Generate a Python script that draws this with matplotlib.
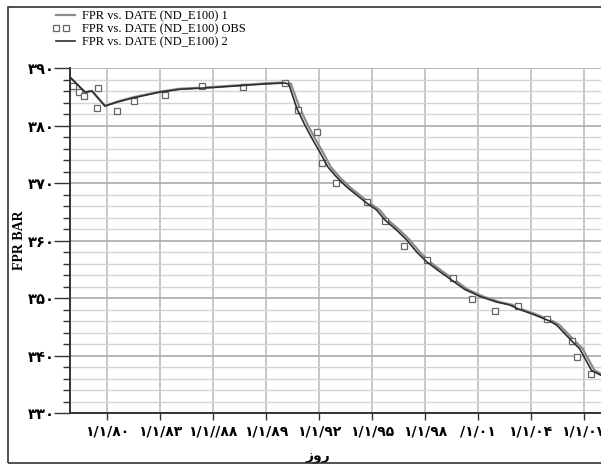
import matplotlib
matplotlib.use('Agg')
import matplotlib.pyplot as plt
from matplotlib.patches import Rectangle
from matplotlib.ticker import MultipleLocator
from matplotlib.legend_handler import HandlerLine2D

# x is measured in tick steps (0 = first date label)
x_tick_labels = ['۱/۱/۸۰', '۱/۱/۸۳', '۱/۱//۸۸', '۱/۱/۸۹', '۱/۱/۹۲',
                 '۱/۱/۹۵', '۱/۱/۹۸', '/۱/۰۱', '۱/۱/۰۴', '۱/۱/۰۷']
y_ticks = [330, 340, 350, 360, 370, 380, 390]
y_tick_labels = ['۳۳۰', '۳۴۰', '۳۵۰', '۳۶۰', '۳۷۰', '۳۸۰', '۳۹۰']

# FPR vs. DATE (ND_E100) 2  (dark line)
t2 = [-0.698, -0.415, -0.283, -0.038, 0.208, 0.491, 1.0, 1.377, 2.0, 2.943,
      3.358, 3.434, 3.585, 3.736, 3.887, 4.019, 4.17, 4.34, 4.528, 4.717,
      4.906, 5.094, 5.245, 5.472, 5.66, 5.849, 6.038, 6.283, 6.528, 6.755,
      7.038, 7.358, 7.604, 7.792, 8.038, 8.358, 8.491, 8.604, 8.792, 8.925,
      9.057, 9.151, 9.321, 9.491]
fpr2 = [388.4, 385.8, 386.0, 383.4, 384.1, 384.8, 385.8, 386.3, 386.6, 387.2,
        387.4, 387.2, 383.0, 380.1, 377.5, 375.4, 372.8, 371.0, 369.3, 367.9,
        366.5, 365.3, 363.6, 361.8, 360.1, 358.0, 356.3, 354.6, 353.0, 351.5,
        350.3, 349.3, 348.8, 348.0, 347.2, 346.0, 345.3, 344.2, 342.4, 341.2,
        339.0, 337.4, 336.6, 336.0]

# FPR vs. DATE (ND_E100) 1  (grey line)
t1 = [-0.698, -0.415, -0.283, -0.038, 0.208, 0.491, 1.0, 1.377, 2.0, 2.943,
      3.358, 3.472, 3.642, 3.792, 3.943, 4.075, 4.226, 4.396, 4.585, 4.774,
      4.962, 5.151, 5.302, 5.528, 5.717, 5.906, 6.094, 6.340, 6.585, 6.811,
      7.094, 7.415, 7.660, 7.849, 8.094, 8.415, 8.547, 8.660, 8.849, 8.981,
      9.113, 9.208, 9.377, 9.547]
fpr1 = [388.4, 385.8, 386.0, 383.4, 384.2, 384.9, 385.9, 386.4, 386.7, 387.3,
        387.5, 387.3, 383.0, 380.1, 377.5, 375.4, 372.8, 371.0, 369.3, 367.9,
        366.5, 365.3, 363.6, 361.8, 360.1, 358.0, 356.3, 354.6, 353.0, 351.5,
        350.3, 349.3, 348.8, 348.0, 347.2, 346.0, 345.3, 344.2, 342.4, 341.2,
        339.0, 337.4, 336.6, 336.0]

# FPR vs. DATE (ND_E100) OBS
t_obs = [-0.642, -0.528, -0.434, -0.189, -0.170, 0.189, 0.509, 1.094, 1.792,
         2.566, 3.358, 3.604, 3.962, 4.057, 4.321, 4.906, 5.245, 5.604, 6.038,
         6.528, 6.887, 7.321, 7.755, 8.302, 8.774, 8.868, 9.132]
fpr_obs = [386.9, 385.8, 385.1, 383.0, 386.5, 382.5, 384.3, 385.3, 386.9,
           386.7, 387.4, 382.7, 378.9, 373.5, 370.0, 366.7, 363.4, 359.0, 356.6,
           353.5, 349.8, 347.7, 348.6, 346.3, 342.5, 339.7, 336.8]


class ObsHandler(HandlerLine2D):
    # the two legend squares sit on the left part of the handle
    def get_xdata(self, legend, xdescent, ydescent, width, height, fontsize):
        xs = [-xdescent + 0.17 * width, -xdescent + 0.52 * width]
        return xs, xs


fig = plt.figure(figsize=(6.01, 4.66), dpi=100)
fig.patches.append(Rectangle((8 / 601, 3 / 466), 1.0, 456 / 466, transform=fig.transFigure,
                             fill=False, edgecolor='#333333', linewidth=1.2, clip_on=False))

ax = fig.add_axes([70 / 601, 53 / 466, 540 / 601, 345 / 466])
ax.set_xlim(-0.698, 9.5)
ax.set_ylim(330, 390)

# grid
ax.set_xticks(range(len(x_tick_labels)))
ax.set_xticklabels(x_tick_labels, family='DejaVu Sans', fontweight='bold', fontsize=10)
ax.set_yticks(y_ticks)
ax.set_yticklabels(y_tick_labels, family='DejaVu Sans', fontweight='bold', fontsize=10.5)
ax.yaxis.set_minor_locator(MultipleLocator(2))
ax.grid(True, which='major', axis='x', color='#b8b8b8', linewidth=1.1)
ax.grid(True, which='major', axis='y', color='#b0b0b0', linewidth=1.3)
ax.grid(True, which='minor', axis='y', color='#d4d4d4', linewidth=1.0)
ax.set_axisbelow(True)
ax.tick_params(axis='y', which='major', length=11.5, width=1.0, color='#333333', pad=-0.5)
ax.tick_params(axis='y', which='minor', length=5, width=1.0, color='#333333')
ax.tick_params(axis='x', which='major', length=5, width=1.0, color='#333333', pad=3)
for side in ['top', 'right']:
    ax.spines[side].set_visible(False)
ax.spines['left'].set_color('#333333')
ax.spines['left'].set_linewidth(1.4)
ax.spines['bottom'].set_color('#333333')
ax.spines['bottom'].set_linewidth(1.4)

ax.plot(t1, fpr1, color='#8c8c8c', linewidth=1.6, label='FPR vs. DATE (ND_E100) 1')
obs_line, = ax.plot(t_obs, fpr_obs, linestyle='none', marker='s', markersize=4,
                    markerfacecolor='white', markeredgecolor='#666666', markeredgewidth=0.9,
                    label='FPR vs. DATE (ND_E100) OBS')
ax.plot(t2, fpr2, color='#2e2e2e', linewidth=1.2, label='FPR vs. DATE (ND_E100) 2')

ax.set_ylabel('FPR BAR', family='Liberation Serif', fontweight='bold', fontsize=10)
ax.yaxis.set_label_coords(-0.082, 0.5)
xlabel_text = 'روز'
ax.set_xlabel(xlabel_text[::-1], family='DejaVu Sans', fontweight='bold', fontsize=10)
ax.xaxis.set_label_coords(248 / 540, -0.108)

fig.legend(loc='upper left', bbox_to_anchor=(52 / 601, 1 - 10 / 466), frameon=False,
           prop={'family': 'Liberation Serif', 'size': 9}, numpoints=2, handlelength=2.1,
           handletextpad=0.3, labelspacing=0.08, borderpad=0, borderaxespad=0,
           handler_map={obs_line: ObsHandler()})

fig.savefig('out.png', dpi=100)
